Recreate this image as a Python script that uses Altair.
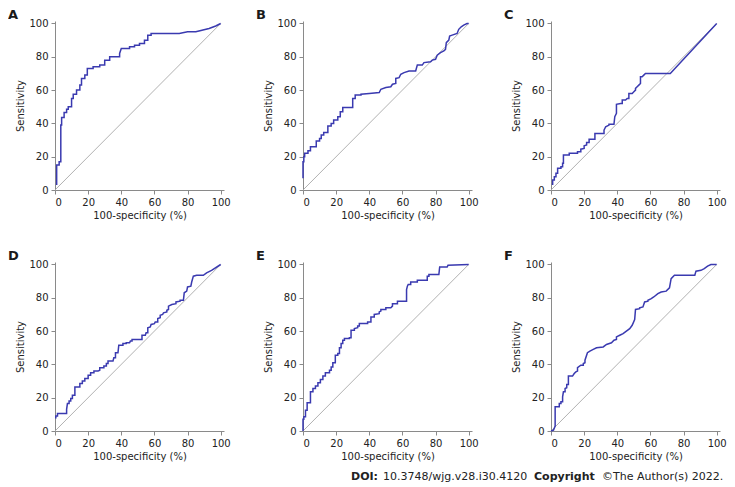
import altair as alt
import pandas as pd

# ---------------- data ----------------
letters = ["A", "B", "C", "D", "E", "F"]
tick_values = [0, 20, 40, 60, 80, 100]
x_title = "100-specificity (%)"
y_title = "Sensitivity"

fpr_A = [1, 1, 2.5, 2.5, 3.5, 3.5, 4, 4, 5.5, 5.5, 7, 7, 8, 8, 10, 10, 11, 11, 13, 13, 15, 15, 16, 16, 18, 18,
         19.5, 19.5, 23, 23, 27, 27, 30, 30, 33, 33, 39, 39, 40, 45, 45, 48, 48, 51, 51, 54, 54, 56, 56, 58, 58,
         75, 80, 85, 93, 97, 100]
tpr_A = [3, 15, 15, 17, 17, 39, 39, 43.5, 43.5, 46.5, 46.5, 48.5, 48.5, 50, 50, 55, 55, 57.5, 57.5, 60, 60, 63,
         63, 67, 67, 69, 69, 73, 73, 74, 74, 75, 75, 78, 78, 80, 80, 82, 85, 85, 86, 86, 87, 87, 88, 88, 90, 90,
         93, 93, 94, 94, 95, 95, 97, 98.5, 100]

fpr_B = [0, 0, 0.5, 0.5, 1, 1, 3, 3, 4.5, 4.5, 8, 8, 10, 10, 11, 11, 12.5, 12.5, 15, 15, 17, 17, 18.5, 18.5, 21,
         21, 22.5, 22.5, 24, 24, 30, 30, 31.5, 31.5, 35, 35, 40, 46, 47, 50, 53, 54, 56, 56, 58, 59, 61, 64, 68,
         69, 72, 73, 77, 78, 80, 81, 83, 85, 86, 86.5, 88, 88.5, 90, 93, 94, 95.5, 97, 99, 100]
tpr_B = [7, 17, 17, 20, 20, 22, 22, 23.5, 23.5, 26, 26, 29.5, 29.5, 31, 31, 33, 33, 34.5, 34.5, 38.5, 38.5, 40,
         40, 42, 42, 44, 44, 47, 47, 49.5, 49.5, 55, 55, 57, 57, 57.5, 58, 58.5, 60.5, 61.5, 62, 63.5, 64, 67,
         67.5, 69.5, 70.5, 71.5, 71.5, 75, 75, 76.5, 77, 78, 78.5, 81, 82.5, 83.5, 84.5, 88.5, 90, 92.5, 93, 94,
         96.5, 98, 99, 100, 100]

fpr_C = [0.5, 1, 1, 2, 2, 3, 3, 4, 4, 6, 6, 7, 7, 7.5, 7.5, 11, 11, 16, 16, 18, 18, 20, 20, 21.5, 21.5, 23, 23,
         26.5, 26.5, 32, 32, 33, 35, 35, 38, 38.5, 39.5, 39.5, 42, 43, 43, 45, 46, 47, 47, 49, 50, 51, 51, 52, 53,
         54, 54, 55, 56, 57, 72, 100]
tpr_C = [3.5, 3.5, 6, 6, 8, 8, 10, 10, 13, 13, 14, 14, 16, 16, 21, 21, 22, 22, 23, 23, 24.5, 25, 26.5, 27, 28.5,
         28.5, 30.5, 30.5, 34, 34, 36, 38, 39, 39.5, 39.5, 44, 46, 51.5, 52, 52, 54, 54, 55, 55, 58, 58, 59, 60,
         61, 62, 63, 64, 68, 68, 69, 70, 70, 100]

fpr_D = [0, 0.5, 0.5, 1.5, 1.5, 7, 7, 7.5, 8.5, 8.5, 9.5, 9.5, 10.5, 10.5, 12, 12, 15, 15, 16.5, 16.5, 18, 18,
         20, 20, 21.5, 21.5, 23.5, 23.5, 26, 27, 27, 29.5, 29.5, 31, 31, 32, 32, 35, 35.5, 36.5, 36.5, 38, 38.5,
         41, 41, 43, 43, 45, 45.5, 46.5, 46.5, 52.5, 52.5, 54.5, 55, 56, 56, 57.5, 58, 60, 60.5, 62, 62, 63.5,
         63.5, 65, 65.5, 67.5, 67.5, 68.5, 68.5, 70.5, 73, 73, 75.5, 75.5, 77.5, 78, 79.5, 80, 82, 82.5, 83.5,
         85.5, 89.5, 91.5, 94.5, 100]
tpr_D = [8, 8, 9, 9, 10.5, 10.5, 13, 16.5, 16.5, 18, 18, 19.5, 19.5, 21.5, 21.5, 26.5, 26.5, 28.5, 28.5, 30, 30,
         31.5, 31.5, 33.5, 33.5, 35, 35, 36, 36, 36.5, 38, 38, 39, 39, 40.5, 40.5, 42, 42, 44, 44, 47, 47, 51.5,
         51.5, 52.5, 52.5, 53, 53, 54, 54, 55, 55, 57.5, 57.5, 59, 59, 62, 62.5, 64, 64.5, 65.5, 65.5, 67.5, 68,
         69.5, 70, 71, 71.5, 72.5, 73, 75, 76, 76.5, 77.5, 78, 78.5, 78.5, 83, 84, 86.5, 87, 89.5, 93, 93.5,
         93.5, 95, 96.5, 100]

fpr_E = [0, 0, 0.5, 0.5, 1.5, 1.5, 2.5, 2.5, 4.5, 4.5, 6, 6, 7.5, 7.5, 9, 9, 10.5, 10.5, 12, 12, 13.5, 13.5, 16,
         16, 17, 17, 18, 18, 19.5, 19.5, 21, 21, 22, 22, 23, 23, 24, 24, 25, 25, 28, 28, 29, 29, 31, 31, 33, 33,
         34, 34, 39, 39, 41, 41, 43, 43, 46, 46, 47, 47, 50, 50, 53, 54, 54, 57, 57, 62.5, 62.5, 63, 63.5, 65,
         65, 69, 69, 75, 75, 76, 76, 82, 82.5, 87, 87.5, 100]
tpr_E = [0, 7, 7, 8.5, 8.5, 12.5, 12.5, 17, 17, 23.5, 23.5, 25.5, 25.5, 27, 27, 29, 29, 31, 31, 33, 33, 35, 35,
         36.5, 36.5, 38.5, 38.5, 41, 41, 45.5, 45.5, 46.5, 46.5, 50, 50, 52.5, 52.5, 54.5, 54.5, 55.5, 55.5, 56,
         56, 60.5, 60.5, 61.5, 62, 63, 63, 64.5, 64.5, 65.5, 65.5, 68.5, 68.5, 70, 70.5, 71.5, 72, 73, 73, 74,
         74, 75, 76.5, 76.5, 78, 78, 85, 87, 88, 88, 89.5, 89.5, 90.5, 90.5, 93, 93, 94, 94, 98.5, 98.5, 99.5,
         100]

fpr_F = [0, 1.5, 2.5, 2.5, 5, 5, 6, 6, 7, 7, 7.5, 8.5, 8.5, 9.5, 9.5, 10.5, 10.5, 13, 14, 15, 16, 16, 18, 19.5,
         19.5, 20.5, 20.5, 22, 23.5, 25.5, 27.5, 31.5, 33.5, 36.5, 38, 39.5, 39.5, 41.5, 43.5, 45.5, 47.5, 49,
         50.5, 51, 53.5, 53.5, 55.5, 56.5, 58.5, 58.5, 60.5, 62, 64.5, 66.5, 69.5, 71.5, 72.5, 74.5, 86.8, 87.5,
         90.5, 92.5, 94.5, 96.5, 100]
tpr_F = [0, 0.5, 3, 14.5, 14.5, 16.5, 16.5, 17.5, 17.5, 20.5, 23.5, 23.5, 25.5, 26, 28, 28, 33, 33, 34.5, 35.5,
         36, 38, 39.5, 39.5, 40.5, 41, 42.5, 47, 48, 49, 50, 50.5, 52, 53, 54.5, 55, 56.5, 57.5, 58.5, 60, 61.5,
         63.5, 67, 73, 73.5, 74, 74.5, 77.5, 78, 78.5, 79.5, 80.5, 82.5, 83.5, 84, 86, 91.5, 93.5, 93.5, 96,
         96.5, 97.5, 99, 100, 100]

curves = [(fpr_A, tpr_A), (fpr_B, tpr_B), (fpr_C, tpr_C),
          (fpr_D, tpr_D), (fpr_E, tpr_E), (fpr_F, tpr_F)]

diag_x = [0, 100]
diag_y = [0, 100]

footer_parts = ["DOI:", "10.3748/wjg.v28.i30.4120", "Copyright", "\u00a9The Author(s) 2022."]
footer_bold = [True, False, True, False]

FONT = "DejaVu Sans"
BLUE = "#3a3ab0"
PW, PH = 169, 169


def panel(letter, fpr, tpr):
    roc = pd.DataFrame({"fpr": fpr, "tpr": tpr, "order": list(range(len(fpr)))})
    diag = pd.DataFrame({"fpr": diag_x, "tpr": diag_y})
    x = alt.X("fpr:Q", scale=alt.Scale(domain=[0, 102], nice=False, zero=False),
              axis=alt.Axis(values=tick_values, title=x_title))
    y = alt.Y("tpr:Q", scale=alt.Scale(domain=[0, 101.5], nice=False, zero=False),
              axis=alt.Axis(values=tick_values, title=y_title))
    d = alt.Chart(diag).mark_line(color="#a8a8a8", strokeWidth=0.9).encode(x=x, y=y)
    c = alt.Chart(roc).mark_line(color=BLUE, strokeWidth=1.5).encode(
        x=x, y=y, order="order:Q")
    return alt.layer(d, c).properties(
        width=PW, height=PH,
        title=alt.TitleParams(letter, anchor="start", frame="group", dx=-47, offset=-4,
                              fontSize=13, fontWeight="bold", font=FONT, color="#1a1a1a"))


panels = [panel(l, f, t) for l, (f, t) in zip(letters, curves)]
row1 = alt.hconcat(*panels[:3], spacing=25)
row2 = alt.hconcat(*panels[3:], spacing=25)
grid = alt.vconcat(row1, row2, spacing=30)

# footer pieces, x in px relative to the first panel's plot origin
foot_x = [296, 328, 479, 547]
foot_layers = []
for txt, bold, px in zip(footer_parts, footer_bold, foot_x):
    df = pd.DataFrame({"t": [txt]})
    foot_layers.append(
        alt.Chart(df).mark_text(align="left", baseline="middle", font=FONT, fontSize=11,
                                fontWeight="bold" if bold else "normal", color="#222")
        .encode(text="t:N", x=alt.value(px), y=alt.value(6))
    )
footer = alt.layer(*foot_layers).properties(width=500, height=12)

chart = alt.vconcat(grid, footer, spacing=10).properties(
    padding={"left": 0, "top": 1, "right": 0, "bottom": 0}
).configure_view(stroke=None).configure_axis(
    grid=False, domainColor="#8a8a8a", tickColor="#8a8a8a", tickSize=4,
    labelFont=FONT, labelFontSize=10, labelColor="#222", labelPadding=3,
    titleFont=FONT, titleFontSize=10, titleFontWeight="normal", titleColor="#222",
    titlePadding=3, domainWidth=1
)

chart.save("out.html", embed_options={"renderer": "svg", "actions": False})
